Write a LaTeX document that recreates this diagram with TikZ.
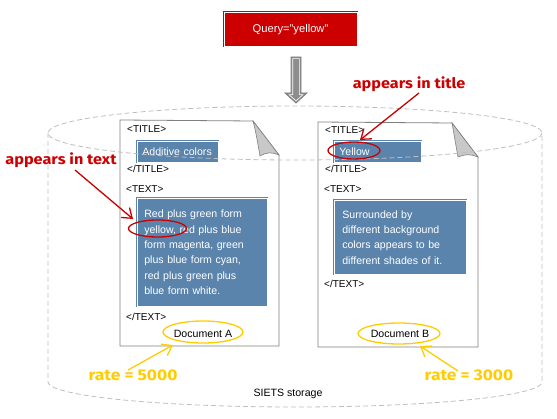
\documentclass[tikz,border=0pt]{standalone}
\usepackage{fontspec}
\setmainfont{Liberation Sans}
\newfontfamily\annfont{Fira Sans}[FakeStretch=1.12]
\usetikzlibrary{arrows.meta,shapes.geometric}
\definecolor{qred}{RGB}{204,0,0}
\definecolor{boxblue}{RGB}{91,132,173}
\definecolor{gold}{RGB}{255,204,0}
\definecolor{cyl}{RGB}{190,190,190}
\definecolor{pagegray}{RGB}{128,128,128}
\definecolor{foldgray}{RGB}{200,200,200}
\begin{document}
\begin{tikzpicture}[x=1pt,y=-1pt,
  tag/.style={font=\fontsize{10}{11}\selectfont, inner sep=0pt, anchor=mid west},
  bbox/.style={draw=boxblue, double=white, double distance=0.8pt, line width=0.6pt,
    fill=boxblue, text=white, anchor=north west, align=left,
    font=\fontsize{10.6}{15.3}\selectfont, inner ysep=0pt},
  qbox/.style={draw=qred, double=white, double distance=0.8pt, line width=0.6pt,
    fill=qred, text=white, font=\fontsize{11.2}{13}\selectfont},
  page/.style={draw=pagegray, line width=0.8pt, line join=miter},
  fold/.style={draw=pagegray, fill=foldgray, line width=0.6pt},
  cylline/.style={draw=cyl, line width=0.8pt, dash pattern=on 5pt off 3pt},
  ann/.style={font=\annfont\bfseries\fontsize{14.5}{16}\selectfont, inner sep=0pt},
  rate/.style={font=\annfont\bfseries\fontsize{15.5}{17}\selectfont, inner sep=0pt},
  redmark/.style={draw=qred, line width=1.3pt, ellipse, inner sep=0pt},
  goldmark/.style={draw=gold, line width=1.3pt, ellipse, inner sep=0pt},
  redarrow/.style={draw=qred, line width=1.3pt, -{Straight Barb[length=9pt,width=13pt]}},
  goldarrow/.style={draw=gold, line width=1.3pt, -{Straight Barb[length=9pt,width=13pt]}},
  doclabel/.style={font=\fontsize{10.6}{12}\selectfont, inner sep=0pt}
]
\useasboundingbox (0,0) rectangle (557,419);

% query box
\node[qbox, minimum width=133pt, minimum height=34pt] (query) at (290.5,29.5) {Query="yellow"};

% gray block arrow
\draw[pagegray, fill=pagegray!90, line width=0.8pt, line join=miter]
  (291,57) -- (301,57) -- (301,93) -- (307,93) -- (296,103) -- (285,93) -- (291,93) -- cycle;
\draw[white, line width=0.6pt, line join=miter]
  (292.7,58.7) -- (299.3,58.7) -- (299.3,94.7) -- (302.8,94.7) -- (296,101) -- (289.2,94.7) -- (292.7,94.7) -- cycle;

% document A
\draw[page] (120,120) -- (253,121) -- (279,155) -- (279,346) -- (120,346) -- cycle;
\draw[fold] (253,121) -- (279,155) .. controls (273,152) and (266,152) .. (260,156)
  .. controls (258,145) and (256,132) .. cycle;
\node[tag] (aT1) at (127,130) {<TITLE>};
\node[bbox, minimum width=81pt, minimum height=21pt, text width=71pt, inner xsep=5pt] (aTitle) at (137,141) {Additive colors};
\node[tag] (aT2) at (127,170) {</TITLE>};
\node[tag] (aX1) at (126,190) {<TEXT>};
\node[bbox, minimum width=130pt, minimum height=108pt, text width=116pt, inner xsep=7pt] (aText) at (137,198)
  {Red plus green form\\yellow, red plus blue\\form magenta, green\\plus blue form cyan,\\red plus green plus\\blue form white.};
\node[tag] (aX2) at (126,318) {</TEXT>};
\node[doclabel] (docA) at (203,334) {Document A};

% document B
\draw[page] (318,122) -- (452,123) -- (478,157) -- (478,347) -- (318,347) -- cycle;
\draw[fold] (452,123) -- (478,157) .. controls (472,154) and (464,154) .. (458,157)
  .. controls (456,146) and (454,134) .. cycle;
\node[tag] (bT1) at (325,131) {<TITLE>};
\node[bbox, minimum width=87pt, minimum height=21pt, text width=77pt, inner xsep=5pt] (bTitle) at (334,141) {Yellow};
\node[tag] (bT2) at (325,170) {</TITLE>};
\node[tag] (bX1) at (324,190) {<TEXT>};
\node[bbox, minimum width=132pt, minimum height=74pt, text width=116pt, inner xsep=8pt] (bText) at (334,200)
  {Surrounded by\\different background\\colors appears to be\\different shades of it.};
\node[tag] (bX2) at (324,285) {</TEXT>};
\node[doclabel] (docB) at (400,334) {Document B};

% cylinder (SIETS storage)
\draw[cylline] (295,133) ellipse [x radius=247, y radius=27];
\draw[cylline] (48,133) -- (48,382) arc [start angle=180, end angle=360, x radius=247, y radius=-25] -- (542,133);
\node[doclabel] (siets) at (288,394) {SIETS storage};

% annotations
\node[ann, text=qred] (lblText) at (61,160) {appears in text};
\node[ann, text=qred] (lblTitle) at (409,84) {appears in title};
\node[redmark, minimum width=58pt, minimum height=17pt] (eA) at (157.5,228.5) {};
\node[redmark, minimum width=52pt, minimum height=17pt] (eB) at (354,150.5) {};
\coordinate (aTs) at (75,170);
\coordinate (aTe) at (133,219);
\coordinate (bTs) at (419,93);
\coordinate (bTe) at (360,140);
\draw[redarrow] (aTs) -- (aTe);
\draw[redarrow] (bTs) -- (bTe);

\node[goldmark, minimum width=80pt, minimum height=22pt] (gA) at (203,332) {};
\node[goldmark, minimum width=82pt, minimum height=21pt] (gB) at (399,333.5) {};
\node[rate, text=gold] (rateA) at (133,375) {rate = 5000};
\node[rate, text=gold] (rateB) at (469,375) {rate = 3000};
\coordinate (rAs) at (128,370);
\coordinate (rAe) at (173,345);
\coordinate (rBs) at (458,371);
\coordinate (rBe) at (420,346);
\draw[goldarrow] (rAs) -- (rAe);
\draw[goldarrow] (rBs) -- (rBe);
\end{tikzpicture}
\end{document}
